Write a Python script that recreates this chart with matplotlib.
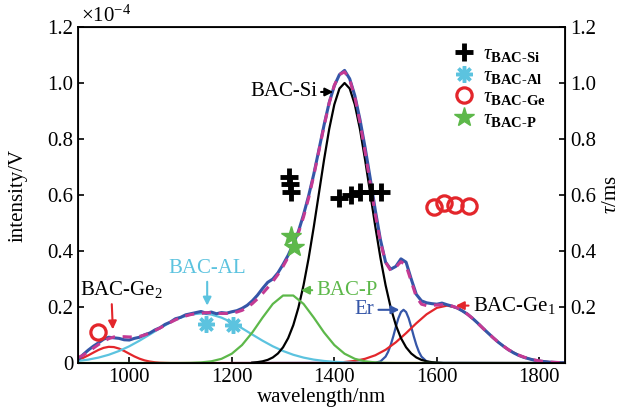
import numpy as np
import matplotlib.pyplot as plt

plt.rcParams['font.family'] = ['Liberation Serif', 'DejaVu Serif']
plt.rcParams['mathtext.fontset'] = 'custom'
plt.rcParams['mathtext.rm'] = 'Liberation Serif'
plt.rcParams['mathtext.it'] = 'Liberation Serif:italic'
plt.rcParams['mathtext.bf'] = 'Liberation Serif:bold'

# measured spectrum and total fit (x 1e-4 V), 10 nm step from 900 to 1850
wl = np.arange(900, 1851, 10)
measured = [0.012, 0.030, 0.046, 0.060, 0.072, 0.085, 0.092, 0.090, 0.088, 0.083,
            0.082, 0.088, 0.092, 0.101, 0.107, 0.118, 0.126, 0.138, 0.146, 0.158,
            0.163, 0.172, 0.176, 0.180, 0.184, 0.178, 0.182, 0.176, 0.180, 0.178,
            0.183, 0.187, 0.195, 0.206, 0.222, 0.242, 0.266, 0.288, 0.300, 0.322,
            0.352, 0.385, 0.425, 0.470, 0.530, 0.598, 0.675, 0.762, 0.850, 0.930,
            0.990, 1.030, 1.045, 1.015, 0.955, 0.870, 0.770, 0.660, 0.545, 0.440,
            0.360, 0.335, 0.345, 0.372, 0.360, 0.300, 0.245, 0.222, 0.215, 0.212,
            0.210, 0.214, 0.208, 0.203, 0.196, 0.186, 0.174, 0.159, 0.142, 0.124,
            0.107, 0.090, 0.074, 0.060, 0.047, 0.036, 0.027, 0.020, 0.015, 0.010,
            0.007, 0.005, 0.003, 0.002, 0.001, 0.001]
fit = [0.019, 0.028, 0.039, 0.053, 0.066, 0.078, 0.087, 0.093, 0.094, 0.094,
       0.093, 0.093, 0.095, 0.100, 0.107, 0.116, 0.125, 0.135, 0.145, 0.154,
       0.162, 0.168, 0.173, 0.176, 0.177, 0.180, 0.179, 0.178, 0.177, 0.177,
       0.178, 0.182, 0.188, 0.198, 0.212, 0.229, 0.248, 0.269, 0.291, 0.316,
       0.345, 0.378, 0.418, 0.465, 0.522, 0.590, 0.670, 0.758, 0.846, 0.928,
       0.992, 1.030, 1.040, 1.012, 0.950, 0.860, 0.755, 0.642, 0.530, 0.432,
       0.360, 0.330, 0.342, 0.362, 0.348, 0.292, 0.236, 0.210, 0.205, 0.206,
       0.207, 0.208, 0.206, 0.203, 0.197, 0.187, 0.174, 0.159, 0.142, 0.124,
       0.107, 0.090, 0.074, 0.060, 0.047, 0.037, 0.028, 0.021, 0.015, 0.011,
       0.0075, 0.005, 0.0035, 0.0024, 0.0015, 0.001]

# fitted components
ge2_x = [900, 910, 920, 930, 940, 950, 960, 970, 980, 990, 1000, 1010, 1020,
         1030, 1040, 1050, 1060, 1080, 1850]
ge2_y = [0.0115, 0.0184, 0.0273, 0.0372, 0.0467, 0.0541, 0.0578, 0.0569, 0.0516,
         0.0431, 0.0332, 0.0235, 0.0154, 0.0093, 0.0052, 0.0026, 0.001, 0, 0]

al_x = [900, 920, 940, 960, 980, 1000, 1020, 1040, 1060, 1080, 1100, 1120, 1140,
        1160, 1180, 1200, 1220, 1240, 1260, 1280, 1300, 1320, 1340, 1360, 1380,
        1400, 1420, 1440, 1460]
al_y = [0.0073, 0.0121, 0.0193, 0.0294, 0.0429, 0.0597, 0.0797, 0.1017, 0.1241,
        0.1450, 0.1620, 0.1731, 0.1770, 0.1731, 0.1620, 0.1450, 0.1241, 0.1017,
        0.0797, 0.0597, 0.0429, 0.0294, 0.0193, 0.0121, 0.0073, 0.0042, 0.0023,
        0.0012, 0]

p_x = [900, 1100, 1120, 1140, 1160, 1180, 1200, 1220, 1240, 1260, 1280, 1300,
       1320, 1340, 1360, 1380, 1400, 1420, 1440, 1460, 1480, 1500, 1520, 1850]
p_y = [0, 0.0002, 0.0006, 0.0021, 0.0060, 0.0150, 0.0332, 0.0642, 0.109, 0.162,
       0.211, 0.241, 0.241, 0.211, 0.162, 0.109, 0.0642, 0.0332, 0.0150, 0.0060,
       0.0021, 0.0006, 0.0002, 0]

si_x = [1240, 1250, 1260, 1270, 1280, 1290, 1300, 1310, 1320, 1330, 1340, 1350,
        1360, 1370, 1380, 1390, 1400, 1410, 1420, 1430, 1440, 1450, 1460, 1470,
        1480, 1490, 1500, 1510, 1520, 1530, 1540, 1550, 1560, 1570, 1580, 1590,
        1600, 1610]
si_y = [0.0015, 0.0031, 0.0060, 0.0111, 0.0198, 0.0340, 0.0561, 0.0889, 0.1353,
        0.1979, 0.2780, 0.3753, 0.4868, 0.6065, 0.7261, 0.8353, 0.9231, 0.9802,
        1.0, 0.9802, 0.9231, 0.8353, 0.7261, 0.6065, 0.4868, 0.3753, 0.2780,
        0.1979, 0.1353, 0.0889, 0.0561, 0.0340, 0.0198, 0.0111, 0.0060, 0.0031,
        0.0015, 0]

er_x = [1200, 1480, 1490, 1500, 1505, 1510, 1515, 1520, 1525, 1530, 1535, 1540,
        1545, 1550, 1555, 1560, 1565, 1570, 1580, 1590, 1850]
er_y = [0, 0.001, 0.0057, 0.0228, 0.040, 0.0645, 0.095, 0.129, 0.160, 0.182,
        0.190, 0.182, 0.160, 0.129, 0.095, 0.0645, 0.040, 0.0228, 0.0057, 0.001, 0]

ge1_x = [1420, 1440, 1460, 1480, 1500, 1520, 1540, 1560, 1580, 1600, 1620, 1640,
         1660, 1680, 1700, 1720, 1740, 1760, 1780, 1800, 1820, 1840, 1850]
ge1_y = [0.0035, 0.0075, 0.0150, 0.0277, 0.0472, 0.0739, 0.1067, 0.142, 0.174,
         0.197, 0.205, 0.197, 0.174, 0.142, 0.1067, 0.0739, 0.0472, 0.0277,
         0.0150, 0.0075, 0.0035, 0.0015, 0.001]

# lifetimes (ms)
tau_si_x = [1312, 1314, 1316, 1410, 1433, 1451, 1471, 1492]
tau_si_y = [0.665, 0.64, 0.61, 0.59, 0.60, 0.61, 0.61, 0.61]
tau_al_x = [1149, 1202]
tau_al_y = [0.14, 0.135]
tau_ge_x = [939, 1594, 1614, 1635, 1663]
tau_ge_y = [0.11, 0.557, 0.57, 0.565, 0.56]
tau_p_x = [1316, 1322]
tau_p_y = [0.455, 0.415]

c_black = 'black'
c_cyan = '#5cc3df'
c_red = '#e3262b'
c_green = '#5db84a'
c_blue = '#3556a8'
c_mag = '#c43a93'

fig = plt.figure(figsize=(6.32, 4.2), dpi=100)
ax = fig.add_axes([0.1234, 0.1357, 0.7706, 0.8])

ax.plot(er_x, er_y, color=c_blue, lw=1.6)
ax.plot(ge2_x, ge2_y, color=c_red, lw=1.6)
ax.plot(ge1_x, ge1_y, color=c_red, lw=1.6)
ax.plot(al_x, al_y, color=c_cyan, lw=1.6)
ax.plot(si_x, si_y, color=c_black, lw=1.6)
ax.plot(p_x, p_y, color=c_green, lw=1.6)
ax.plot(wl, measured, color=c_blue, lw=2.2)
ax.plot(wl, fit, color=c_mag, lw=2.2, dashes=(3, 2.5))

ax.set_xlim(900, 1850)
ax.set_ylim(0, 1.2)
ax.set_xticks([1000, 1200, 1400, 1600, 1800])
ax.set_yticks([0, 0.2, 0.4, 0.6, 0.8, 1.0, 1.2])
ax.set_yticklabels(['0', '0.2', '0.4', '0.6', '0.8', '1.0', '1.2'])
ax.tick_params(direction='in', labelsize=15, length=4, width=1.2)
ax.set_xlabel('wavelength/nm', fontsize=15, labelpad=1)
ax.set_ylabel('intensity/V', fontsize=15)
ax.yaxis.set_label_coords(-0.103, 0.5)
for s in ax.spines.values():
    s.set_linewidth(1.3)
fig.text(0.128, 0.936, r'$\times$10$^{-4}$', fontsize=15, va='bottom')

ax2 = ax.twinx()
ax2.set_ylim(0, 1.2)
ax2.set_yticks([0.2, 0.4, 0.6, 0.8, 1.0, 1.2])
ax2.set_yticklabels(['0.2', '0.4', '0.6', '0.8', '1.0', '1.2'])
ax2.tick_params(direction='in', labelsize=15, length=4, width=1.2)
ax2.set_ylabel(r'$\tau$/ms', fontsize=15, labelpad=4)

ax2.plot(tau_si_x, tau_si_y, ls='none', marker='+', ms=13, mew=3.5, color=c_black,
         label=r'$\tau_{\mathbf{BAC‐Si}}$')
ax2.plot(tau_al_x, tau_al_y, ls='none', marker=(8, 2, 0), ms=12, mew=2.5,
         color=c_cyan, label=r'$\tau_{\mathbf{BAC‐Al}}$')
ax2.plot(tau_ge_x, tau_ge_y, ls='none', marker='o', ms=11, mew=2.3, mfc='none',
         color=c_red, label=r'$\tau_{\mathbf{BAC‐Ge}}$')
ax2.plot(tau_p_x, tau_p_y, ls='none', marker='*', ms=15, color=c_green,
         label=r'$\tau_{\mathbf{BAC‐P}}$')
ax2.legend(loc='upper right', bbox_to_anchor=(0.985, 0.985), frameon=False,
           fontsize=15, handletextpad=0.3, labelspacing=0.1, handlelength=1.2,
           borderaxespad=0.2)

arr = dict(arrowstyle='-|>', lw=1.5, mutation_scale=12, shrinkA=1, shrinkB=0)
ax.annotate('BAC-Si', xy=(1398, 0.968), xytext=(1366, 0.968), fontsize=15,
            ha='right', va='center', arrowprops=dict(arr, color=c_black))
ax.annotate('BAC-AL', xy=(1152, 0.205), xytext=(1152, 0.305), fontsize=15,
            ha='center', va='bottom', color=c_cyan,
            arrowprops=dict(arr, color=c_cyan))
ax.annotate('BAC-Ge$_2$', xy=(968, 0.12), xytext=(985, 0.225), fontsize=15,
            ha='center', va='bottom', color=c_black,
            arrowprops=dict(arr, color=c_red, relpos=(0.38, 0.0)))
ax.annotate('BAC-P', xy=(1335, 0.26), xytext=(1365, 0.26), fontsize=15,
            ha='left', va='center', color=c_green,
            arrowprops=dict(arr, color=c_green))
ax.annotate('Er', xy=(1527, 0.19), xytext=(1478, 0.19), fontsize=15,
            ha='right', va='center', color=c_blue,
            arrowprops=dict(arr, color=c_blue, relpos=(1.0, 0.5)))
ax.annotate('BAC-Ge$_1$', xy=(1637, 0.205), xytext=(1670, 0.205), fontsize=15,
            ha='left', va='center', color=c_black,
            arrowprops=dict(arr, color=c_red, relpos=(0.0, 0.5)))

fig.savefig('out.png', dpi=100)
